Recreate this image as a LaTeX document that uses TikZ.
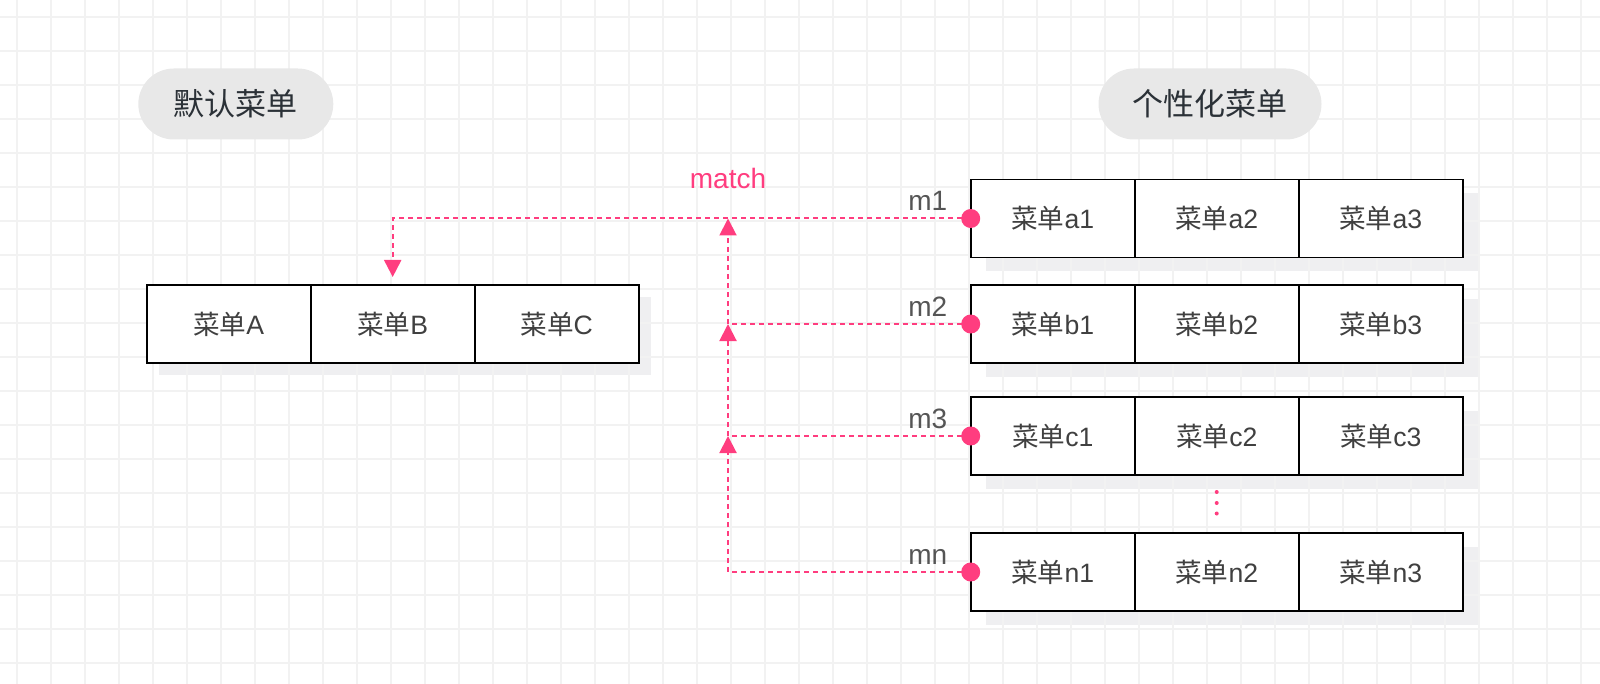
\documentclass[tikz,border=0pt]{standalone}
\usepackage{fontspec}
\setmainfont{Liberation Sans}
\newfontfamily\cjk{Noto Sans CJK SC}
\usetikzlibrary{positioning,arrows.meta,backgrounds}
\definecolor{matchpink}{HTML}{FF3D7F}
\definecolor{gridgray}{HTML}{F2F2F2}
\definecolor{shadowgray}{HTML}{EFEFF1}
\definecolor{pillgray}{HTML}{E8E8E8}
\definecolor{pilltext}{HTML}{2B3137}
\definecolor{cellgray}{HTML}{404040}
\definecolor{labelgray}{HTML}{555555}

\begin{document}
\begin{tikzpicture}[x=0.5pt,y=-0.5pt,
    cell/.style={draw=black,line width=0.8pt,fill=white,minimum width=82pt,minimum height=39pt,inner sep=0pt,outer sep=0pt,text=cellgray,font=\fontsize{13.3}{13.3}\selectfont},
    pill/.style={fill=pillgray,rounded corners=17.75pt,minimum height=35.5pt,inner sep=0pt,text=pilltext,font=\cjk\fontsize{15.5}{15.5}\selectfont},
    gridline/.style={draw=gridgray,line width=0.85pt},
    link/.style={matchpink,line width=1pt,dash pattern=on 2.5pt off 2pt},
    arrowtri/.style={-{Triangle[width=8.5pt,length=8.5pt]}},
    mlabel/.style={inner sep=0pt,anchor=base east,text=labelgray,font=\fontsize{14}{14}\selectfont}]
        \useasboundingbox (0,0) rectangle (1600,684);

        % grid
        \foreach \x in {17,51,...,1581} \draw[gridline] (\x,0) -- (\x,684);
        \foreach \y in {17,51,...,663} \draw[gridline] (0,\y) -- (1600,\y);

        % headers
        \node[pill,minimum width=97.5pt] (defhead) at (235.8,104) {默认菜单};
        \node[pill,minimum width=111.5pt] (perhead) at (1210,104) {个性化菜单};

        % default menu
        \node[cell] (A) at (228.7,324) {{\cjk 菜单}A};
        \node[cell,right=0pt of A] (B) {{\cjk 菜单}B};
        \node[cell,right=0pt of B] (C) {{\cjk 菜单}C};

        % personal menus
        \node[cell] (a1) at (1052.7,218.5) {{\cjk 菜单}a1};
        \node[cell,right=0pt of a1] (a2) {{\cjk 菜单}a2};
        \node[cell,right=0pt of a2] (a3) {{\cjk 菜单}a3};
        \node[cell] (b1) at (1052.7,324) {{\cjk 菜单}b1};
        \node[cell,right=0pt of b1] (b2) {{\cjk 菜单}b2};
        \node[cell,right=0pt of b2] (b3) {{\cjk 菜单}b3};
        \node[cell] (c1) at (1052.7,436) {{\cjk 菜单}c1};
        \node[cell,right=0pt of c1] (c2) {{\cjk 菜单}c2};
        \node[cell,right=0pt of c2] (c3) {{\cjk 菜单}c3};
        \node[cell] (n1) at (1052.7,572) {{\cjk 菜单}n1};
        \node[cell,right=0pt of n1] (n2) {{\cjk 菜单}n2};
        \node[cell,right=0pt of n2] (n3) {{\cjk 菜单}n3};

        % shadows
        \begin{scope}[on background layer]
            \fill[shadowgray] ([shift={(12,12)}]A.north west) rectangle ([shift={(12,12)}]C.south east);
            \foreach \r/\s in {a1/a3,b1/b3,c1/c3,n1/n3}
                \fill[shadowgray] ([shift={(15,14)}]\r.north west) rectangle ([shift={(15,14)}]\s.south east);
        \end{scope}

        % row labels
        \node[mlabel] (lm1) at ([xshift=-11.5pt,yshift=4pt]a1.west) {m1};
        \node[mlabel] (lm2) at ([xshift=-11.5pt,yshift=4pt]b1.west) {m2};
        \node[mlabel] (lm3) at ([xshift=-11.5pt,yshift=4pt]c1.west) {m3};
        \node[mlabel] (lmn) at ([xshift=-11.5pt,yshift=4pt]n1.west) {mn};

        % links
        \coordinate (trunk) at (728,0);
        \coordinate (j1) at (trunk |- a1.west);
        \coordinate (j2) at (trunk |- b1.west);
        \coordinate (j3) at (trunk |- c1.west);

        \draw[link,arrowtri] (a1.west) -| ([yshift=4pt]B.north);
        \draw[link] (b1.west) -- (j2);
        \draw[link] (c1.west) -- (j3);
        \draw[link,arrowtri] (n1.west) -| (j3);
        \draw[link,arrowtri] (j3) -- (j2);
        \draw[link,arrowtri] (j2) -- (j1);

        \node[inner sep=0pt,anchor=base,text=matchpink,font=\fontsize{14}{14}\selectfont] (match) at ([yshift=15pt]j1) {match};

        \foreach \r in {a1,b1,c1,n1} \fill[matchpink] (\r.west) circle (4.75pt);
        \foreach \d in {8.5,14,19.25} \fill[matchpink] ([yshift=-\d pt]c2.south) circle (1pt);
    \end{tikzpicture}
\end{document}
